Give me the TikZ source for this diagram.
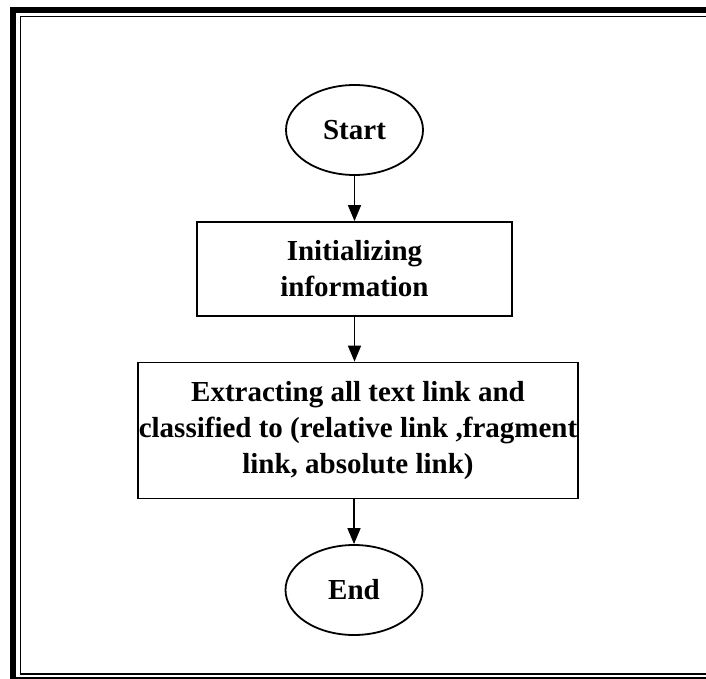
\documentclass[tikz,border=0pt]{standalone}
\usepackage{fontspec}
\setmainfont{Liberation Serif}
\usetikzlibrary{shapes.geometric,arrows.meta}
\begin{document}
\begin{tikzpicture}[x=1pt,y=-1pt,
  every node/.style={font=\bfseries\fontsize{29}{36}\selectfont, align=center, line width=1.8pt, draw=black},
  terminal/.style={ellipse, minimum width=137pt, minimum height=90pt, inner sep=0pt},
  process/.style={rectangle, inner sep=0pt},
  flow/.style={line width=1.6pt, -{Triangle[length=16pt,width=13pt]}}]
  \useasboundingbox (0,0) rectangle (706,679);
  \clip (0,0) rectangle (706,679);
  % page frame: thick outer line, thin inner line
  \draw[line width=6pt] (13,10) rectangle (730,680);
  \draw[line width=1.2pt] (20.5,16.5) rectangle (725,674);

  \node[terminal] (start) at (354.5,130) {Start};
  \node[process, minimum width=315pt, minimum height=94pt] (init) at (354.5,269) {Initializing\\information};
  \node[process, minimum width=440pt, minimum height=136pt] (extract) at (358,430.5)
    {Extracting all text link and\\classified to (relative link ,fragment\\link, absolute link)};
  \node[terminal] (end) at (354,590) {End};

  \draw[flow] (start.south) -- (init.north -| start.south);
  \draw[flow] (init.south) -- (init.south |- extract.north);
  \draw[flow] (end.north |- extract.south) -- (end.north);
\end{tikzpicture}
\end{document}
